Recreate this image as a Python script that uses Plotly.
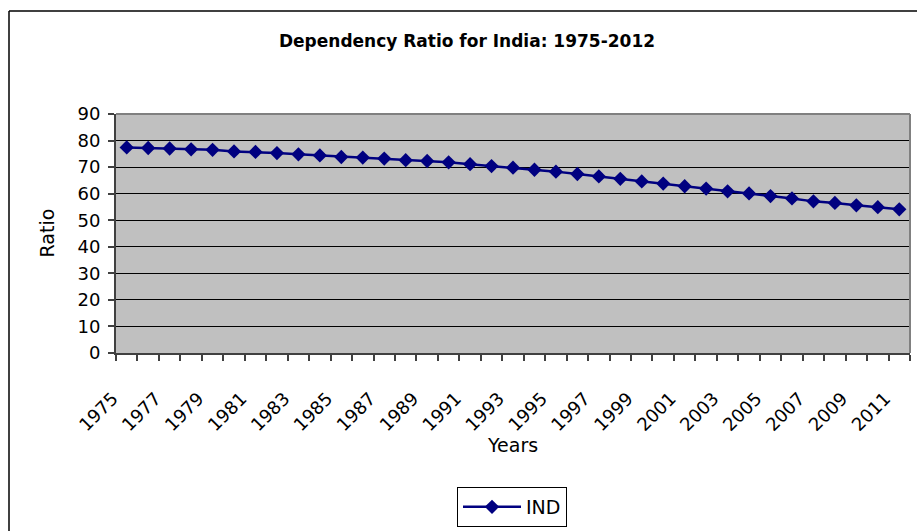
import plotly.graph_objects as go

years = list(range(1975, 2012))
ratio = [77.4, 77.2, 77.0, 76.7, 76.5, 75.9, 75.7, 75.3, 74.8, 74.4,
         73.8, 73.6, 73.2, 72.6, 72.3, 71.8, 71.1, 70.4, 69.8, 69.0,
         68.3, 67.4, 66.5, 65.6, 64.6, 63.8, 62.8, 61.9, 60.9, 60.1,
         59.1, 58.2, 57.1, 56.5, 55.6, 54.9, 54.1]
label_years = years[::2]
tick_labels = [str(y) for y in label_years]
boundaries = [y - 0.5 for y in years] + [years[-1] + 0.5]
series_name = "IND"
title_text = "Dependency Ratio for India: 1975-2012"

W, H = 917, 531
ML, MR, MT, MB = 116, 7, 114, 178
PW, PH = W - ML - MR, H - MT - MB

def px(x):
    return (x - ML) / PW

def py(y):
    return (H - MB - y) / PH

FONT = "DejaVu Sans, Verdana, sans-serif"
NAVY = "#000080"

fig = go.Figure()
fig.add_trace(go.Scatter(
    x=years, y=ratio, name=series_name, mode="lines+markers",
    line=dict(color=NAVY, width=2.5),
    marker=dict(symbol="diamond", size=11, color=NAVY),
))

fig.update_layout(
    width=W, height=H,
    margin=dict(l=ML, r=MR, t=MT, b=MB, pad=0, autoexpand=False),
    paper_bgcolor="white", plot_bgcolor="#C0C0C0",
    font=dict(family=FONT, color="black", size=18),
    showlegend=True,
    legend=dict(
        x=px(457), y=py(487), xanchor="left", yanchor="top",
        bordercolor="black", borderwidth=1, bgcolor="white",
        font=dict(size=19, family=FONT), itemwidth=58,
        tracegroupgap=0,
    ),
    xaxis=dict(
        range=[years[0] - 0.5, years[-1] + 0.5], automargin=False,
        tickmode="array", tickvals=label_years, ticktext=tick_labels,
        tickangle=-45, ticks="", showgrid=False, zeroline=False,
        showline=True, linecolor="#404040", linewidth=2,
        ticklabelstandoff=26, ticklabelshift=-14,
        tickfont=dict(size=18, family=FONT),
        minor=dict(tickmode="array", tickvals=boundaries, ticks="outside",
                   ticklen=6, tickwidth=1.5, tickcolor="#404040", showgrid=False),
    ),
    yaxis=dict(
        range=[0, 90], tickmode="linear", tick0=0, dtick=10, automargin=False,
        ticks="outside", ticklen=6, tickwidth=1.5, tickcolor="#404040",
        showgrid=True, gridcolor="black", gridwidth=1, zeroline=False,
        showline=True, linecolor="#404040", linewidth=2,
        ticklabelstandoff=4,
        tickfont=dict(size=18, family=FONT),
    ),
    title=dict(
        text="<b>" + title_text + "</b>", x=px(467), xref="paper", xanchor="center",
        y=1 - 41 / H, yref="container", yanchor="middle",
        font=dict(size=17, family=FONT, color="black"),
    ),
)

fig.update_layout(annotations=[
    dict(text="Ratio", x=px(46), y=0.5, xref="paper", yref="paper",
         textangle=-90, showarrow=False, xanchor="center", yanchor="middle",
         font=dict(size=19, family=FONT)),
    dict(text="Years", x=px(512), y=py(445), xref="paper", yref="paper",
         showarrow=False, xanchor="center", yanchor="middle",
         font=dict(size=19, family=FONT)),
])

fig.update_layout(shapes=[
    dict(type="line", xref="paper", yref="paper", x0=0, x1=1, y0=1, y1=1,
         line=dict(color="#808080", width=2), layer="above"),
    dict(type="line", xref="paper", yref="paper", x0=1, x1=1, y0=0, y1=1,
         line=dict(color="#808080", width=2), layer="above"),
    dict(type="line", xref="paper", yref="paper", x0=px(9), x1=px(930), y0=py(11), y1=py(11),
         line=dict(color="black", width=1.5)),
    dict(type="line", xref="paper", yref="paper", x0=px(9), x1=px(9), y0=py(11), y1=py(545),
         line=dict(color="black", width=1.5)),
])

fig.write_html(
    "out.html",
    config={"displayModeBar": False},
    post_script="document.body.style.margin='0';document.body.style.overflow='hidden';",
)
